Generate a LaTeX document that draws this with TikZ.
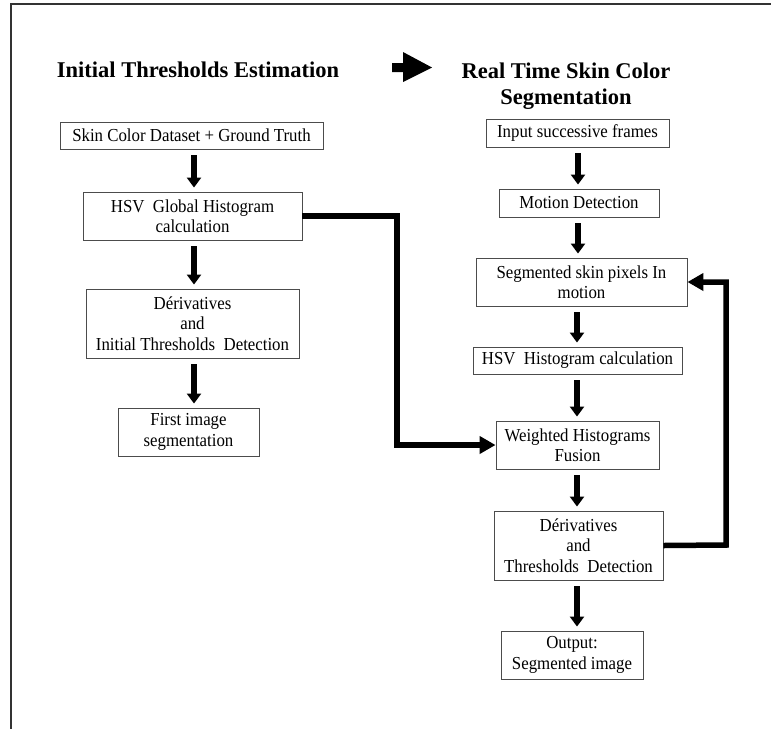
\documentclass[tikz,border=0pt]{standalone}
\usepackage{fontspec}
\setmainfont{Liberation Serif}
\newfontfamily\boxfont[FakeStretch=0.92]{Liberation Serif}
\usetikzlibrary{arrows.meta}
\begin{document}
\begin{tikzpicture}[x=1pt,y=-1pt,
  box/.style={draw=black!70,line width=0.9pt,inner sep=0pt,align=center,
    font=\boxfont\fontsize{18.3}{20.5}\selectfont},
  ttl/.style={align=center,font=\fontsize{22.5}{26}\selectfont\bfseries},
  vstep/.style={line width=5.5pt,-{Triangle[width=14pt,length=10pt]},
    shorten <=6pt,shorten >=4pt},
  conn/.style={line width=5.5pt,-{Triangle[width=17pt,length=16pt]}},
  frame/.style={draw=black!80,line width=2pt}]
\useasboundingbox (0,0) rectangle (771,729);
\draw[frame] (771,4) -- (11,4) -- (11,729);
% titles
\node[ttl] (t1) at (198,70) {Initial Thresholds Estimation};
\node[ttl] (t2) at (566,86) {Real Time Skin Color\\Segmentation};
\fill (392,63) -- (403,63) -- (403,52) -- (432,67.5) -- (403,82) -- (403,72) -- (392,72) -- cycle;
% left column
\node[box,minimum width=263pt,minimum height=27pt] (b1) at (191.5,135.5) {Skin Color Dataset + Ground Truth};
\node[box,minimum width=219pt,minimum height=48pt] (b2) at (192.5,216) {HSV\ \ Global Histogram\\calculation};
\node[box,minimum width=213pt,minimum height=69pt] (b3) at (192.5,323.5) {Dérivatives\\and\\Initial Thresholds\ \ Detection};
\node[box,minimum width=141pt,minimum height=48pt] (b4) at (188.5,432) {First image\\segmentation};
% right column
\node[box,minimum width=183pt,minimum height=28pt] (r1) at (577.5,133) {Input successive frames};
\node[box,minimum width=160pt,minimum height=28pt] (r2) at (579,203) {Motion Detection};
\node[box,minimum width=211pt,minimum height=48pt] (r3) at (581.5,282) {Segmented skin pixels In\\motion};
\node[box,minimum width=209pt,minimum height=27pt] (r4) at (577.5,360.5) {HSV\ \ Histogram calculation};
\node[box,minimum width=163pt,minimum height=48pt] (r5) at (577.5,445) {Weighted Histograms\\Fusion};
\node[box,minimum width=169pt,minimum height=69pt] (r6) at (578.5,545.5) {Dérivatives\\and\\Thresholds\ \ Detection};
\node[box,minimum width=142pt,minimum height=48pt] (r7) at (572,655) {Output:\\Segmented image};
% vertical arrows
\draw[vstep] (194,0 |- b1.south) -- (194,0 |- b2.north);
\draw[vstep] (194,0 |- b2.south) -- (194,0 |- b3.north);
\draw[vstep] (194,0 |- b3.south) -- (194,0 |- b4.north);
\draw[vstep] (578,0 |- r1.south) -- (578,0 |- r2.north);
\draw[vstep] (578,0 |- r2.south) -- (578,0 |- r3.north);
\draw[vstep] (577,0 |- r3.south) -- (577,0 |- r4.north);
\draw[vstep] (577,0 |- r4.south) -- (577,0 |- r5.north);
\draw[vstep] (577,0 |- r5.south) -- (577,0 |- r6.north);
\draw[vstep] (577,0 |- r6.south) -- (577,0 |- r7.north);
% connectors
\coordinate (k1) at (397,216);
\coordinate (k2) at (726,545);
\draw[conn] (b2.east) -- (k1) |- (r5.west);
\draw[conn] (r6.east) -- (k2) |- (r3.east);
\end{tikzpicture}
\end{document}
